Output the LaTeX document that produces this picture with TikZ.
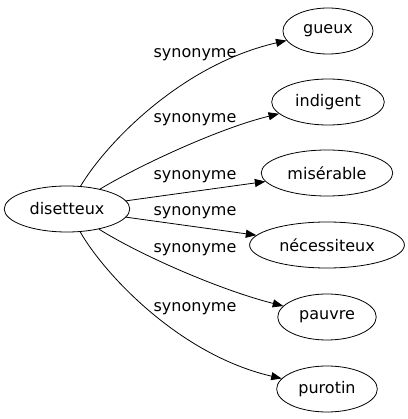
\documentclass[tikz,border=0pt]{standalone}
\usepackage{fontspec}
\setmainfont{DejaVu Sans}
\usetikzlibrary{shapes.geometric, arrows.meta}

\tikzset{
    word/.style={draw, ellipse, line width=0.8bp, minimum height=46bp, inner xsep=7bp},
    rel/.style={->, line width=0.8bp},
    tag/.style={inner sep=0pt}
}

\begin{document}
\begin{tikzpicture}[x=1bp, y=1bp, >={Triangle[length=10.5bp, width=8bp]},
    font=\fontsize{16bp}{19bp}\selectfont]
    \useasboundingbox (0,0) rectangle (408,419);

    \node[word] (dis) at (67,210) {disetteux};
    \node[word] (gueux) at (328,388) {gueux};
    \node[word] (indigent) at (328,317) {indigent};
    \node[word] (miserable) at (327,246) {misérable};
    \node[word] (necessiteux) at (327,174) {nécessiteux};
    \node[word] (pauvre) at (327,102) {pauvre};
    \node[word] (purotin) at (327,30) {purotin};

    \draw[rel] (dis) .. controls (105,274) and (180,354) .. (gueux);
    \draw[rel] (dis) .. controls (140,254) and (220,291) .. (indigent);
    \draw[rel] (dis) -- (miserable);
    \draw[rel] (dis) -- (necessiteux);
    \draw[rel] (dis) .. controls (140,164) and (220,129) .. (pauvre);
    \draw[rel] (dis) .. controls (105,144) and (180,64) .. (purotin);

    \node[tag] (t1) at (195,364) {synonyme};
    \node[tag] (t2) at (195,299) {synonyme};
    \node[tag] (t3) at (195,242) {synonyme};
    \node[tag] (t4) at (195,206) {synonyme};
    \node[tag] (t5) at (195,169) {synonyme};
    \node[tag] (t6) at (195,110) {synonyme};
\end{tikzpicture}
\end{document}
